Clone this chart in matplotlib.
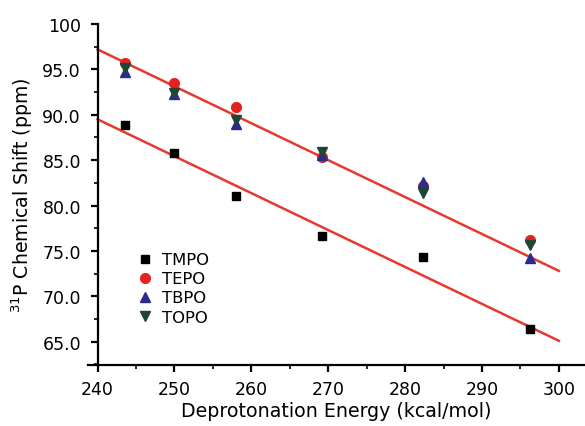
import matplotlib
matplotlib.use('Agg')
import matplotlib.pyplot as plt
from matplotlib.ticker import MultipleLocator

plt.rcParams['font.family'] = ['DejaVu Sans']

# deprotonation energy (kcal/mol) and 31P shifts (ppm)
energy = [243.6, 249.9, 258.0, 269.2, 282.3, 296.2]
tmpo = [88.9, 85.8, 81.1, 76.6, 74.3, 66.4]
tepo = [95.7, 93.5, 90.8, 85.3, 82.1, 76.2]
tbpo = [94.7, 92.3, 89.0, 85.6, 82.6, 74.2]
topo = [95.2, 92.4, 89.4, 85.9, 81.4, 75.7]

# fitted lines (end points as drawn)
fit_x = [240, 300]
fit_upper = [97.2, 72.8]
fit_lower = [89.5, 65.1]

yticks = [65, 70, 75, 80, 85, 90, 95, 100]
ylabels = ['65.0', '70.0', '75.0', '80.0', '85.0', '90.0', '95.0', '100']
xticks = [240, 250, 260, 270, 280, 290, 300]

fig = plt.figure(figsize=(5.85, 4.27), dpi=100)
ax = fig.add_axes([88 / 585, 0.1436, 1 - 88 / 585, 0.7979])

ax.plot(fit_x, fit_upper, color='#e8392f', lw=1.8, zorder=1)
ax.plot(fit_x, fit_lower, color='#e8392f', lw=1.8, zorder=1)

ax.plot(energy, tmpo, 's', color='black', ms=6, ls='none', label='TMPO')
ax.plot(energy, tepo, 'o', color='#e3231f', ms=7, ls='none', label='TEPO')
ax.plot(energy, tbpo, '^', color='#2c2a8c', ms=7, ls='none', label='TBPO')
ax.plot(energy, topo, 'v', color='#1e4634', ms=7, ls='none', label='TOPO')

ax.set_xlim(238.75, 303.4)
ax.set_ylim(62.47, 100)
ax.set_xticks(xticks)
ax.set_yticks(yticks, ylabels)
ax.xaxis.set_minor_locator(MultipleLocator(5))
ax.yaxis.set_minor_locator(MultipleLocator(2.5))

for s in ['top', 'right']:
    ax.spines[s].set_visible(False)
for s in ['left', 'bottom']:
    ax.spines[s].set_linewidth(1.6)
ax.spines['left'].set_position(('data', 240))

ax.tick_params(which='major', direction='out', length=5, width=1.6, labelsize=12.5)
ax.tick_params(axis='x', which='major', pad=6)
ax.tick_params(axis='y', which='major', pad=7)
ax.tick_params(which='minor', direction='out', length=3, width=1.2)

ax.set_xlabel('Deprotonation Energy (kcal/mol)', fontsize=13.7, labelpad=2)
ax.set_ylabel('$^{31}$P Chemical Shift (ppm)', fontsize=13.6, labelpad=5)

ax.legend(loc='upper left', bbox_to_anchor=(0.0945, 0.33), frameon=False,
          fontsize=11.8, handletextpad=0.45, labelspacing=0.25,
          handlelength=1.2, borderaxespad=0, borderpad=0)

fig.savefig('out.png', dpi=100)
